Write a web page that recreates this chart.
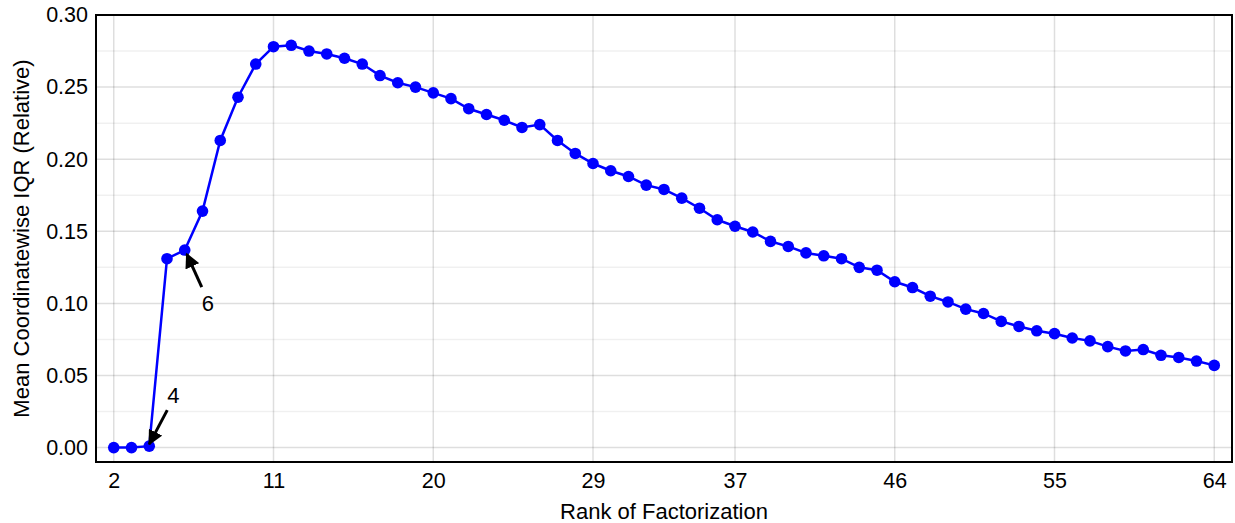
<!DOCTYPE html>
<html>
<head>
<meta charset="utf-8">
<script src="https://cdn.jsdelivr.net/npm/d3@7"></script>
<style>
  body { margin: 0; background: #fff; }
  svg { display: block; font-family: 'Liberation Sans', Arial, sans-serif; }
</style>
</head>
<body>
<svg id="chart"></svg>
<script>
// ranks of the factorization (x values)
const ranks = d3.range(2, 65)

// mean coordinatewise IQR (relative), one per rank
const iqr = [
  0.000, 0.000, 0.001, 0.131, 0.137, 0.164, 0.213, 0.243, 0.266, 0.278,
  0.279, 0.275, 0.273, 0.270, 0.266, 0.258, 0.253, 0.250, 0.246, 0.242,
  0.235, 0.231, 0.227, 0.222, 0.224, 0.213, 0.204, 0.197, 0.192, 0.188,
  0.182, 0.179, 0.173, 0.166, 0.158, 0.1535, 0.1495, 0.143, 0.1395, 0.135,
  0.133, 0.131, 0.125, 0.123, 0.115, 0.111, 0.105, 0.101, 0.096, 0.093,
  0.0875, 0.084, 0.081, 0.079, 0.076, 0.074, 0.070, 0.067, 0.068, 0.064,
  0.0625, 0.060, 0.057,
]

const xTicks = [2, 11, 20, 29, 37, 46, 55, 64]
const yTicks = [0, 0.05, 0.1, 0.15, 0.2, 0.25, 0.3]
const yMinorTicks = [0.025, 0.075, 0.125, 0.175, 0.225, 0.275]

// annotated ranks
const annotations = [4, 6]

const width = 1235
const height = 523
const margin = { top: 15, right: 3, bottom: 61, left: 96 }
const fontSize = 21.5

const svg = d3
  .select('#chart')
  .attr('width', width)
  .attr('height', height)

const x = d3
  .scaleLinear()
  .domain([1, 65])
  .range([margin.left, width - margin.right])

const y = d3
  .scaleLinear()
  .domain([-0.01, 0.3])
  .range([height - margin.bottom, margin.top])

const data = ranks.map((r, i) => ({ rank: r, value: iqr[i] }))

// grid
const grid = svg.append('g')

grid
  .selectAll('.minor')
  .data(yMinorTicks)
  .join('line')
  .attr('x1', x.range()[0])
  .attr('x2', x.range()[1])
  .attr('y1', (d) => y(d))
  .attr('y2', (d) => y(d))
  .attr('stroke', '#000')
  .attr('stroke-opacity', 0.06)
  .attr('stroke-width', 1.5)

grid
  .selectAll('.hmajor')
  .data(yTicks)
  .join('line')
  .attr('x1', x.range()[0])
  .attr('x2', x.range()[1])
  .attr('y1', (d) => y(d))
  .attr('y2', (d) => y(d))
  .attr('stroke', '#000')
  .attr('stroke-opacity', 0.13)
  .attr('stroke-width', 1.5)

grid
  .selectAll('.vmajor')
  .data(xTicks)
  .join('line')
  .attr('x1', (d) => x(d))
  .attr('x2', (d) => x(d))
  .attr('y1', y.range()[0])
  .attr('y2', y.range()[1])
  .attr('stroke', '#000')
  .attr('stroke-opacity', 0.13)
  .attr('stroke-width', 1.5)

// axes (labels only, no tick marks)
const xAxis = svg
  .append('g')
  .attr('transform', `translate(0,${y.range()[0]})`)
  .call(
    d3
      .axisBottom(x)
      .tickValues(xTicks)
      .tickFormat(d3.format('d'))
      .tickSize(0)
      .tickPadding(11)
  )

const yAxis = svg
  .append('g')
  .attr('transform', `translate(${x.range()[0]},0)`)
  .call(
    d3
      .axisLeft(y)
      .tickValues(yTicks)
      .tickFormat(d3.format('.2f'))
      .tickSize(0)
      .tickPadding(8)
  )

for (const axis of [xAxis, yAxis]) {
  axis.select('.domain').remove()
  axis
    .selectAll('text')
    .attr('fill', '#000')
    .style('font-size', fontSize + 'px')
    .style('font-family', "'Liberation Sans', Arial, sans-serif")
}

// frame
svg
  .append('rect')
  .attr('x', x.range()[0])
  .attr('y', y.range()[1])
  .attr('width', x.range()[1] - x.range()[0])
  .attr('height', y.range()[0] - y.range()[1])
  .attr('fill', 'none')
  .attr('stroke', '#000')
  .attr('stroke-width', 2)

// line and markers
svg
  .append('path')
  .datum(data)
  .attr('fill', 'none')
  .attr('stroke', '#0000ff')
  .attr('stroke-width', 2.5)
  .attr(
    'd',
    d3
      .line()
      .x((d) => x(d.rank))
      .y((d) => y(d.value))
  )

svg
  .append('g')
  .selectAll('circle')
  .data(data)
  .join('circle')
  .attr('cx', (d) => x(d.rank))
  .attr('cy', (d) => y(d.value))
  .attr('r', 5.8)
  .attr('fill', '#0000ff')

// arrow head
svg
  .append('defs')
  .append('marker')
  .attr('id', 'arrow')
  .attr('viewBox', '0 0 10 10')
  .attr('refX', 9)
  .attr('refY', 5)
  .attr('markerWidth', 5)
  .attr('markerHeight', 5)
  .attr('markerUnits', 'strokeWidth')
  .attr('orient', 'auto')
  .append('path')
  .attr('d', 'M0,0L10,5L0,10z')
  .attr('fill', '#000')

// annotations: 4 points from upper right, 6 from lower right
const offsets = {
  4: { tip: [0, -2], tail: [18, -36], text: [24, -43] },
  6: { tip: [2, 4], tail: [17, 37], text: [23, 61] },
}

annotations.forEach((rank) => {
  const d = data.find((p) => p.rank === rank)
  const px = x(d.rank)
  const py = y(d.value)
  const o = offsets[rank]

  svg
    .append('line')
    .attr('x1', px + o.tail[0])
    .attr('y1', py + o.tail[1])
    .attr('x2', px + o.tip[0])
    .attr('y2', py + o.tip[1])
    .attr('stroke', '#000')
    .attr('stroke-width', 3)
    .attr('marker-end', 'url(#arrow)')

  svg
    .append('text')
    .attr('x', px + o.text[0])
    .attr('y', py + o.text[1])
    .attr('text-anchor', 'middle')
    .style('font-size', '22px')
    .text(String(rank))
})

// axis titles
svg
  .append('text')
  .attr('x', (x.range()[0] + x.range()[1]) / 2)
  .attr('y', 519)
  .attr('text-anchor', 'middle')
  .style('font-size', '22px')
  .text('Rank of Factorization')

svg
  .append('text')
  .attr(
    'transform',
    `translate(29,${(y.range()[0] + y.range()[1]) / 2}) rotate(-90)`
  )
  .attr('text-anchor', 'middle')
  .style('font-size', '22px')
  .text('Mean Coordinatewise IQR (Relative)')
</script>
</body>
</html>
